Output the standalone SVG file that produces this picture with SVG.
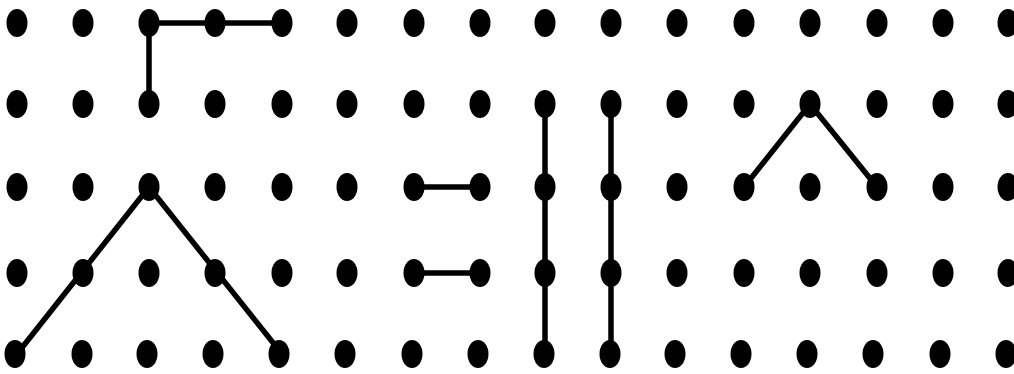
<svg xmlns="http://www.w3.org/2000/svg" width="1014" height="374" viewBox="0 0 1014 374">
<style>
.d{fill:#000}
.l{stroke:#000;stroke-width:5.5;fill:none;stroke-linejoin:round;stroke-linecap:round}
</style>
<defs><ellipse id="dot" cx="0" cy="0" rx="10.5" ry="14" class="d"/></defs>
<rect width="1014" height="374" fill="#fff"/>
<g id="connectors">
<polyline class="l" points="282,23 149,23 149,104"/>
<polyline class="l" points="17,354 149,187 282,354"/>
<line class="l" x1="414" y1="187" x2="480" y2="187"/>
<line class="l" x1="414" y1="273" x2="480" y2="273"/>
<line class="l" x1="545" y1="104" x2="545" y2="354"/>
<line class="l" x1="611" y1="104" x2="611" y2="354"/>
<polyline class="l" points="744,187 810,104 877,187"/>
</g>
<g id="dots">
<g id="row1">
<use href="#dot" x="17" y="23"/><use href="#dot" x="83" y="23"/><use href="#dot" x="149" y="23"/><use href="#dot" x="215" y="23"/><use href="#dot" x="282" y="23"/><use href="#dot" x="347" y="23"/><use href="#dot" x="414" y="23"/><use href="#dot" x="480" y="23"/><use href="#dot" x="545" y="23"/><use href="#dot" x="611" y="23"/><use href="#dot" x="677" y="23"/><use href="#dot" x="744" y="23"/><use href="#dot" x="810" y="23"/><use href="#dot" x="877" y="23"/><use href="#dot" x="943" y="23"/><use href="#dot" x="1008" y="23"/>
</g>
<g id="row2">
<use href="#dot" x="17" y="104"/><use href="#dot" x="83" y="104"/><use href="#dot" x="149" y="104"/><use href="#dot" x="215" y="104"/><use href="#dot" x="282" y="104"/><use href="#dot" x="347" y="104"/><use href="#dot" x="414" y="104"/><use href="#dot" x="480" y="104"/><use href="#dot" x="545" y="104"/><use href="#dot" x="611" y="104"/><use href="#dot" x="677" y="104"/><use href="#dot" x="744" y="104"/><use href="#dot" x="810" y="104"/><use href="#dot" x="877" y="104"/><use href="#dot" x="943" y="104"/><use href="#dot" x="1008" y="104"/>
</g>
<g id="row3">
<use href="#dot" x="17" y="187"/><use href="#dot" x="83" y="187"/><use href="#dot" x="149" y="187"/><use href="#dot" x="215" y="187"/><use href="#dot" x="282" y="187"/><use href="#dot" x="347" y="187"/><use href="#dot" x="414" y="187"/><use href="#dot" x="480" y="187"/><use href="#dot" x="545" y="187"/><use href="#dot" x="611" y="187"/><use href="#dot" x="677" y="187"/><use href="#dot" x="744" y="187"/><use href="#dot" x="810" y="187"/><use href="#dot" x="877" y="187"/><use href="#dot" x="943" y="187"/><use href="#dot" x="1008" y="187"/>
</g>
<g id="row4">
<use href="#dot" x="17" y="273"/><use href="#dot" x="83" y="273"/><use href="#dot" x="149" y="273"/><use href="#dot" x="215" y="273"/><use href="#dot" x="282" y="273"/><use href="#dot" x="347" y="273"/><use href="#dot" x="414" y="273"/><use href="#dot" x="480" y="273"/><use href="#dot" x="545" y="273"/><use href="#dot" x="611" y="273"/><use href="#dot" x="677" y="273"/><use href="#dot" x="744" y="273"/><use href="#dot" x="810" y="273"/><use href="#dot" x="877" y="273"/><use href="#dot" x="943" y="273"/><use href="#dot" x="1008" y="273"/>
</g>
<g id="row5">
<use href="#dot" x="15" y="354"/><use href="#dot" x="82" y="354"/><use href="#dot" x="147" y="354"/><use href="#dot" x="213" y="354"/><use href="#dot" x="279" y="354"/><use href="#dot" x="345" y="354"/><use href="#dot" x="412" y="354"/><use href="#dot" x="478" y="354"/><use href="#dot" x="544" y="354"/><use href="#dot" x="610" y="354"/><use href="#dot" x="675" y="354"/><use href="#dot" x="741" y="354"/><use href="#dot" x="807" y="354"/><use href="#dot" x="873" y="354"/><use href="#dot" x="940" y="354"/><use href="#dot" x="1006" y="354"/>
</g>
</g>
</svg>
